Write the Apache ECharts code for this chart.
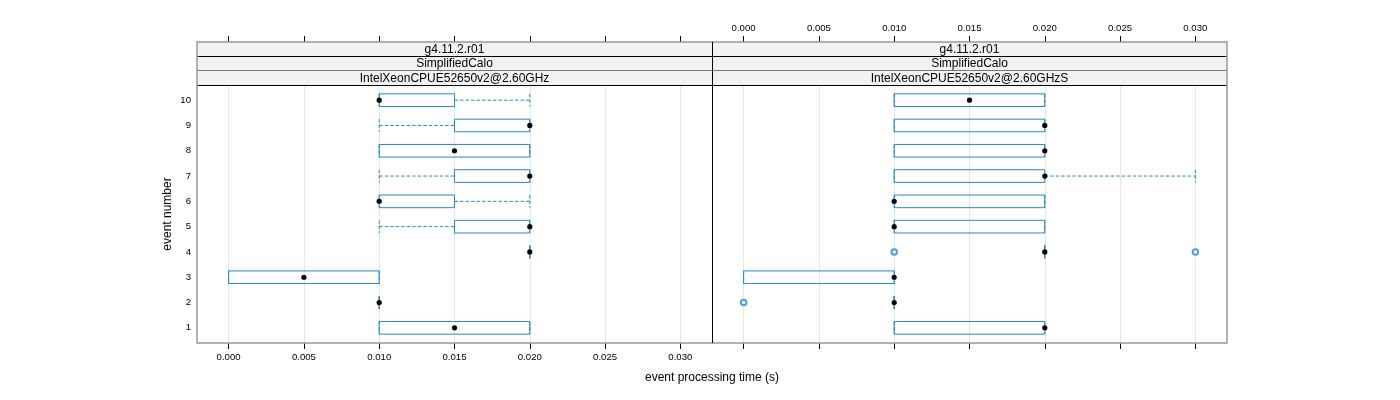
<!DOCTYPE html>
<html>
<head>
<meta charset="utf-8">
<script src="https://cdn.jsdelivr.net/npm/echarts@6/dist/echarts.min.js"></script>
<style>html,body{margin:0;padding:0;background:#fff}#c{width:1400px;height:400px}</style>
</head>
<body>
<div id="c"></div>
<script>
// ---- data ----
const events = [1, 2, 3, 4, 5, 6, 7, 8, 9, 10];
const xTicks = [0.000, 0.005, 0.010, 0.015, 0.020, 0.025, 0.030];

const leftLow  = [0.010, 0.010, 0.000, 0.020, 0.010, 0.010, 0.010, 0.010, 0.010, 0.010];
const leftQ1   = [0.010, 0.010, 0.000, 0.020, 0.015, 0.010, 0.015, 0.010, 0.015, 0.010];
const leftMed  = [0.015, 0.010, 0.005, 0.020, 0.020, 0.010, 0.020, 0.015, 0.020, 0.010];
const leftQ3   = [0.020, 0.010, 0.010, 0.020, 0.020, 0.015, 0.020, 0.020, 0.020, 0.015];
const leftHigh = [0.020, 0.010, 0.010, 0.020, 0.020, 0.020, 0.020, 0.020, 0.020, 0.020];

const rightLow  = [0.010, 0.010, 0.000, 0.020, 0.010, 0.010, 0.010, 0.010, 0.010, 0.010];
const rightQ1   = [0.010, 0.010, 0.000, 0.020, 0.010, 0.010, 0.010, 0.010, 0.010, 0.010];
const rightMed  = [0.020, 0.010, 0.010, 0.020, 0.010, 0.010, 0.020, 0.020, 0.020, 0.015];
const rightQ3   = [0.020, 0.010, 0.010, 0.020, 0.020, 0.020, 0.020, 0.020, 0.020, 0.020];
const rightHigh = [0.020, 0.010, 0.010, 0.020, 0.020, 0.020, 0.030, 0.020, 0.020, 0.020];
const rightOutlierX = [0.000, 0.010, 0.030];
const rightOutlierEvent = [2, 4, 4];

const leftStrips  = ['g4.11.2.r01', 'SimplifiedCalo', 'IntelXeonCPUE52650v2@2.60GHz'];
const rightStrips = ['g4.11.2.r01', 'SimplifiedCalo', 'IntelXeonCPUE52650v2@2.60GHzS'];
const yTitle = 'event number';
const xTitle = 'event processing time (s)';

// ---- layout / style ----
const FONT = '"Liberation Sans", Arial, Helvetica, sans-serif';
const BLUE = '#2a86c8';
const FRAME = '#999999';
const P = { l0: 197, mid: 712, r1: 1227, stripTop: 42, top: 85, bottom: 343 };
const stripLines = [42, 56, 70.7, 85];

function rows(lo, q1, med, q3, hi) {
  return events.map((e, i) => [e, lo[i], q1[i], med[i], q3[i], hi[i]]);
}

function renderBox(params, api) {
  const y = api.value(0);
  const lo = api.value(1), q1 = api.value(2), med = api.value(3), q3 = api.value(4), hi = api.value(5);
  const h = api.size([0, 1])[1] * 0.25;
  const pLo = api.coord([lo, y]), pQ1 = api.coord([q1, y]), pMed = api.coord([med, y]);
  const pQ3 = api.coord([q3, y]), pHi = api.coord([hi, y]);
  const cy = pMed[1];
  const dash = { stroke: BLUE, lineWidth: 1, lineDash: [3.5, 2] };
  const ch = [];
  ch.push({ type: 'rect', shape: { x: pQ1[0], y: cy - h, width: pQ3[0] - pQ1[0], height: 2 * h },
            style: { fill: 'none', stroke: BLUE, lineWidth: 1 } });
  if (pLo[0] < pQ1[0]) ch.push({ type: 'line', shape: { x1: pLo[0], y1: cy, x2: pQ1[0], y2: cy }, style: dash });
  if (pHi[0] > pQ3[0]) ch.push({ type: 'line', shape: { x1: pQ3[0], y1: cy, x2: pHi[0], y2: cy }, style: dash });
  ch.push({ type: 'line', shape: { x1: pLo[0], y1: cy - h, x2: pLo[0], y2: cy + h }, style: dash });
  ch.push({ type: 'line', shape: { x1: pHi[0], y1: cy - h, x2: pHi[0], y2: cy + h }, style: dash });
  ch.push({ type: 'circle', shape: { cx: pMed[0], cy: cy, r: 2.6 }, style: { fill: '#000' } });
  return { type: 'group', children: ch };
}

function xAxisDef(grid, pos, showLabel, offset) {
  return {
    type: 'value', gridIndex: grid, position: pos, offset: offset || 0,
    min: -0.0021, max: 0.0321, splitNumber: 7,
    axisLine: { show: false },
    axisTick: { show: true, inside: false, length: 6, lineStyle: { color: '#000', width: 1 }, customValues: xTicks },
    axisLabel: { show: showLabel, customValues: xTicks, formatter: v => v.toFixed(3),
                 fontFamily: FONT, fontSize: 9.6, color: '#000', margin: 9 },
    splitLine: { show: pos === 'bottom', lineStyle: { color: '#e6e6e6', width: 1 } }
  };
}
function yAxisDef(grid, showLabel) {
  return {
    type: 'value', gridIndex: grid, min: 0.4, max: 10.6,
    axisLine: { show: false }, axisTick: { show: false }, splitLine: { show: false },
    axisLabel: { show: showLabel, customValues: events, fontFamily: FONT, fontSize: 9.6, color: '#000', margin: 6 }
  };
}

const graphics = [];
[[P.l0, P.mid, leftStrips], [P.mid, P.r1, rightStrips]].forEach(([x0, x1, texts]) => {
  graphics.push({ type: 'rect', z: 50, shape: { x: x0, y: P.stripTop, width: x1 - x0, height: P.top - P.stripTop },
                  style: { fill: '#f2f2f2', stroke: null } });
  texts.forEach((t, i) => {
    graphics.push({ type: 'text', z: 60, x: (x0 + x1) / 2, y: (stripLines[i] + stripLines[i + 1]) / 2 + 0.5,
                    style: { text: t, font: '12px ' + FONT, fill: '#000', textAlign: 'center', textVerticalAlign: 'middle' } });
  });
});
// strip separators
graphics.push({ type: 'line', z: 70, shape: { x1: P.l0, y1: 56.5, x2: P.r1, y2: 56.5 }, style: { stroke: '#000', lineWidth: 1 } });
graphics.push({ type: 'line', z: 70, shape: { x1: P.l0, y1: 70.5, x2: P.r1, y2: 70.5 }, style: { stroke: '#777', lineWidth: 1 } });
graphics.push({ type: 'line', z: 70, shape: { x1: P.l0, y1: 85.5, x2: P.r1, y2: 85.5 }, style: { stroke: '#000', lineWidth: 1 } });
// outer frame
graphics.push({ type: 'rect', z: 80, shape: { x: P.l0, y: P.stripTop, width: P.r1 - P.l0, height: P.bottom - P.stripTop },
                style: { fill: 'none', stroke: FRAME, lineWidth: 1.5 } });
// divider between panels
graphics.push({ type: 'line', z: 90, shape: { x1: P.mid + 0.5, y1: P.stripTop, x2: P.mid + 0.5, y2: P.bottom }, style: { stroke: '#000', lineWidth: 1 } });
// titles
graphics.push({ type: 'text', z: 60, x: 168, y: (P.top + P.bottom) / 2, rotation: Math.PI / 2,
                style: { text: yTitle, font: '12px ' + FONT, fill: '#000', textAlign: 'center', textVerticalAlign: 'middle' } });
graphics.push({ type: 'text', z: 60, x: (P.l0 + P.r1) / 2, y: 378,
                style: { text: xTitle, font: '12px ' + FONT, fill: '#000', textAlign: 'center', textVerticalAlign: 'middle' } });

const chart = echarts.init(document.getElementById('c'), null, { renderer: 'canvas' });
chart.setOption({
  animation: false,
  backgroundColor: '#fff',
  grid: [
    { left: P.l0, top: P.top, width: P.mid - P.l0, height: P.bottom - P.top, show: false, containLabel: false },
    { left: P.mid, top: P.top, width: P.r1 - P.mid, height: P.bottom - P.top, show: false, containLabel: false }
  ],
  xAxis: [
    xAxisDef(0, 'bottom', true),
    xAxisDef(0, 'top', false, P.top - P.stripTop),
    xAxisDef(1, 'bottom', false),
    xAxisDef(1, 'top', true, P.top - P.stripTop)
  ],
  yAxis: [yAxisDef(0, true), yAxisDef(1, false)],
  graphic: graphics,
  series: [
    { type: 'custom', xAxisIndex: 0, yAxisIndex: 0, renderItem: renderBox,
      encode: { x: [1, 2, 3, 4, 5], y: 0 }, data: rows(leftLow, leftQ1, leftMed, leftQ3, leftHigh), clip: false },
    { type: 'custom', xAxisIndex: 2, yAxisIndex: 1, renderItem: renderBox,
      encode: { x: [1, 2, 3, 4, 5], y: 0 }, data: rows(rightLow, rightQ1, rightMed, rightQ3, rightHigh), clip: false },
    { type: 'scatter', xAxisIndex: 2, yAxisIndex: 1, symbol: 'emptyCircle', symbolSize: 5.5,
      itemStyle: { color: BLUE, borderColor: BLUE, borderWidth: 1 },
      data: rightOutlierX.map((x, i) => [x, rightOutlierEvent[i]]), z: 3 }
  ]
});
</script>
</body>
</html>
